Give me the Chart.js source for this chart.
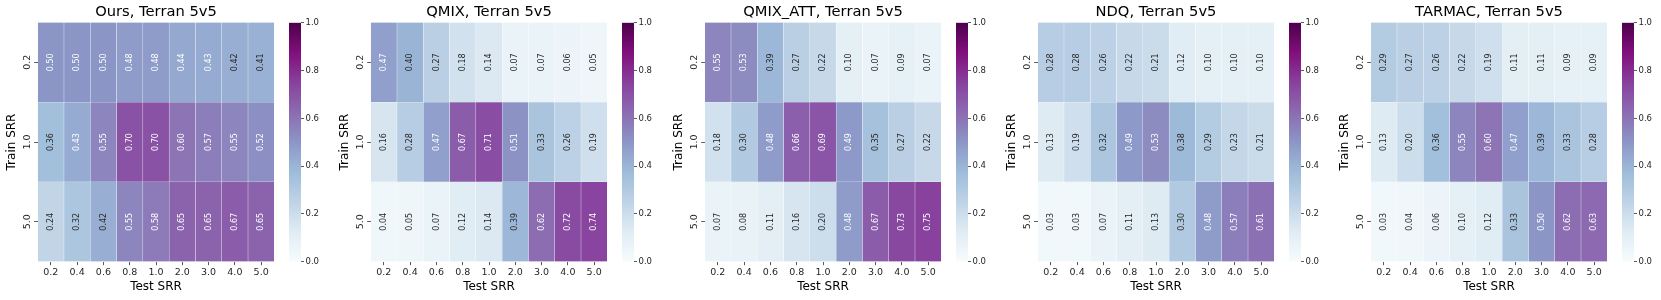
<!DOCTYPE html>
<html>
<head>
<meta charset="utf-8">
<script src="https://cdn.jsdelivr.net/npm/chart.js@4.4.1/dist/chart.umd.min.js"></script>
<style>
  body { margin: 0; background: #fff; }
  #wrap { position: relative; width: 1661px; height: 300px; overflow: hidden; }
  .box { position: absolute; top: 0; height: 300px; }
</style>
</head>
<body>
<div id="wrap"></div>
<script>
// axis categories
const testSRR = ['0.2', '0.4', '0.6', '0.8', '1.0', '2.0', '3.0', '4.0', '5.0'];
const trainSRR = ['0.2', '1.0', '5.0'];
const cbarTicks = [0, 0.2, 0.4, 0.6, 0.8, 1.0];

// win rates, one row per train SRR
const ours = [
  [0.50, 0.50, 0.50, 0.48, 0.48, 0.44, 0.43, 0.42, 0.41],
  [0.36, 0.43, 0.55, 0.70, 0.70, 0.60, 0.57, 0.55, 0.52],
  [0.24, 0.32, 0.42, 0.55, 0.58, 0.65, 0.65, 0.67, 0.65]
];
const qmix = [
  [0.47, 0.40, 0.27, 0.18, 0.14, 0.07, 0.07, 0.06, 0.05],
  [0.16, 0.28, 0.47, 0.67, 0.71, 0.51, 0.33, 0.26, 0.19],
  [0.04, 0.05, 0.07, 0.12, 0.14, 0.39, 0.62, 0.72, 0.74]
];
const qmixAtt = [
  [0.55, 0.53, 0.39, 0.27, 0.22, 0.10, 0.07, 0.09, 0.07],
  [0.18, 0.30, 0.48, 0.66, 0.69, 0.49, 0.35, 0.27, 0.22],
  [0.07, 0.08, 0.11, 0.16, 0.20, 0.48, 0.67, 0.73, 0.75]
];
const ndq = [
  [0.28, 0.28, 0.26, 0.22, 0.21, 0.12, 0.10, 0.10, 0.10],
  [0.13, 0.19, 0.32, 0.49, 0.53, 0.38, 0.29, 0.23, 0.21],
  [0.03, 0.03, 0.07, 0.11, 0.13, 0.30, 0.48, 0.57, 0.61]
];
const tarmac = [
  [0.29, 0.27, 0.26, 0.22, 0.19, 0.11, 0.11, 0.09, 0.09],
  [0.13, 0.20, 0.36, 0.55, 0.60, 0.47, 0.39, 0.33, 0.28],
  [0.03, 0.04, 0.06, 0.10, 0.12, 0.33, 0.50, 0.62, 0.63]
];

const panels = [
  { title: 'Ours, Terran 5v5', values: ours },
  { title: 'QMIX, Terran 5v5', values: qmix },
  { title: 'QMIX_ATT, Terran 5v5', values: qmixAtt },
  { title: 'NDQ, Terran 5v5', values: ndq },
  { title: 'TARMAC, Terran 5v5', values: tarmac }
];

// matplotlib BuPu
const bupu = ['#f7fcfd', '#e0ecf4', '#bfd3e6', '#9ebcda', '#8c96c6', '#8c6bb1', '#88419d', '#810f7c', '#4d004b'];
const hex = h => [1, 3, 5].map(i => parseInt(h.substr(i, 2), 16));

function bupuRgb(v) {
  const t = Math.min(1, Math.max(0, v)) * (bupu.length - 1);
  const i = Math.min(bupu.length - 2, Math.floor(t));
  const f = t - i;
  const a = hex(bupu[i]), b = hex(bupu[i + 1]);
  return a.map((c, k) => c + (b[k] - c) * f);
}
const css = rgb => `rgb(${rgb.map(Math.round).join(',')})`;

function luminance(rgb) {
  const lin = rgb.map(c => {
    c /= 255;
    return c <= 0.03928 ? c / 12.92 : Math.pow((c + 0.055) / 1.055, 2.4);
  });
  return 0.2126 * lin[0] + 0.7152 * lin[1] + 0.0722 * lin[2];
}

Chart.defaults.font.family = 'DejaVu Sans';
Chart.defaults.color = '#262626';

// rotated value labels inside the cells
const cellLabels = {
  id: 'cellLabels',
  afterDatasetsDraw(chart) {
    const ctx = chart.ctx;
    ctx.save();
    ctx.font = '8px "DejaVu Sans"';
    ctx.textAlign = 'center';
    ctx.textBaseline = 'middle';
    chart.data.datasets.forEach((ds, r) => {
      chart.getDatasetMeta(r).data.forEach((el, j) => {
        const v = ds.values[j];
        ctx.fillStyle = luminance(bupuRgb(v)) > 0.408 ? '#262626' : '#ffffff';
        ctx.save();
        ctx.translate(el.x, (el.y + el.base) / 2);
        ctx.rotate(-Math.PI / 2);
        ctx.fillText(v.toFixed(2), 0, 0);
        ctx.restore();
      });
    });
    ctx.restore();
  }
};

const wrap = document.getElementById('wrap');

function addCanvas(left, width) {
  const d = document.createElement('div');
  d.className = 'box';
  d.style.left = left + 'px';
  d.style.width = width + 'px';
  const c = document.createElement('canvas');
  d.appendChild(c);
  wrap.appendChild(d);
  return c;
}

panels.forEach((p, i) => {
  const x0 = Math.round(333.33 * i);

  new Chart(addCanvas(x0, 280), {
    type: 'bar',
    data: {
      labels: testSRR,
      datasets: p.values.map((row, r) => ({
        values: row,
        data: row.map(() => [trainSRR.length - 1 - r, trainSRR.length - r]),
        backgroundColor: row.map(v => css(bupuRgb(v))),
        borderColor: 'rgba(255,255,255,0.12)',
        borderWidth: 0.5,
        borderSkipped: false,
        barPercentage: 1,
        categoryPercentage: 1,
        grouped: false
      }))
    },
    options: {
      responsive: true,
      maintainAspectRatio: false,
      animation: false,
      layout: { padding: { left: 0, right: 5.7, top: 0, bottom: 0 } },
      plugins: {
        legend: { display: false },
        tooltip: { enabled: false },
        title: {
          display: true,
          text: p.title,
          fullSize: false,
          color: '#000',
          font: { size: 14.7, weight: 'normal' },
          padding: { top: 3, bottom: 1.7 }
        }
      },
      scales: {
        x: {
          grid: { display: true, offset: false, drawOnChartArea: false, tickLength: 3.5, color: '#333', lineWidth: 0.8 },
          border: { display: false },
          ticks: { font: { size: 9.5 }, padding: 2, color: '#262626', maxRotation: 0 },
          title: { display: true, text: 'Test SRR', color: '#000', font: { size: 12 }, padding: { top: 0, bottom: 6 } },
          afterFit: s => { s.height = 38.3; }
        },
        y: {
          min: 0,
          max: trainSRR.length,
          grid: { display: true, drawOnChartArea: false, tickLength: 3.5, color: '#333', lineWidth: 0.8 },
          border: { display: false },
          afterBuildTicks: s => { s.ticks = trainSRR.map((_, r) => ({ value: trainSRR.length - 0.5 - r })); },
          ticks: {
            font: { size: 9.5 },
            color: '#262626',
            minRotation: 90,
            maxRotation: 90,
            crossAlign: 'center',
            padding: -1.2,
            callback: v => trainSRR[Math.round(trainSRR.length - 0.5 - v)]
          },
          title: { display: true, text: 'Train SRR', color: '#000', font: { size: 12 }, padding: { top: 5, bottom: 0 } },
          afterFit: s => { s.width = 37.7; }
        }
      }
    },
    plugins: [cellLabels]
  });

  // colour bar
  new Chart(addCanvas(x0 + 288, 44), {
    type: 'bar',
    data: {
      labels: [''],
      datasets: [{
        data: [[cbarTicks[0], cbarTicks[cbarTicks.length - 1]]],
        backgroundColor: c => {
          const area = c.chart.chartArea;
          if (!area) return bupu[4];
          const g = c.chart.ctx.createLinearGradient(0, area.bottom, 0, area.top);
          bupu.forEach((col, k) => g.addColorStop(k / (bupu.length - 1), col));
          return g;
        },
        borderWidth: 0,
        barPercentage: 1,
        categoryPercentage: 1
      }]
    },
    options: {
      responsive: true,
      maintainAspectRatio: false,
      animation: false,
      layout: { padding: { left: 1, right: 0, top: 22.7, bottom: 38.3 } },
      plugins: { legend: { display: false }, tooltip: { enabled: false } },
      scales: {
        x: { display: false },
        y: {
          position: 'right',
          min: 0,
          max: 1,
          afterBuildTicks: s => { s.ticks = cbarTicks.map(v => ({ value: v })); },
          grid: { display: true, drawOnChartArea: false, tickLength: 3, color: '#333', lineWidth: 0.8 },
          border: { display: false },
          ticks: { font: { size: 8.5 }, padding: 1.5, color: '#262626', callback: v => v.toFixed(1) },
          afterFit: s => { s.width = 31; }
        }
      }
    }
  });
});
</script>
</body>
</html>
